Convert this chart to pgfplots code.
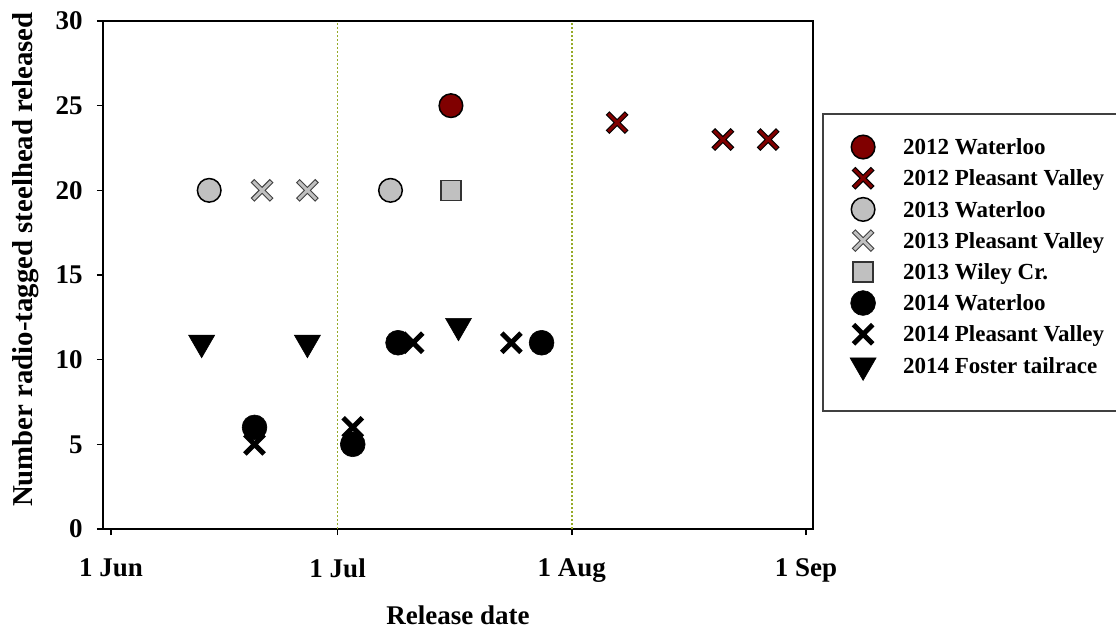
\documentclass[border=0pt]{standalone}
\usepackage{fontspec}
\setmainfont{Liberation Serif}
\usepackage{pgfplots}
\pgfplotsset{compat=1.18}
\definecolor{darkred}{RGB}{128,0,0}
\definecolor{lgray}{RGB}{192,192,192}
\definecolor{gridc}{RGB}{150,170,40}
\definecolor{framec}{RGB}{64,64,64}
\pgfdeclareplotmark{xred}{%
  \pgfsetbuttcap
  \pgfpathmoveto{\pgfqpoint{-\pgfplotmarksize}{-\pgfplotmarksize}}%
  \pgfpathlineto{\pgfqpoint{\pgfplotmarksize}{\pgfplotmarksize}}%
  \pgfpathmoveto{\pgfqpoint{-\pgfplotmarksize}{\pgfplotmarksize}}%
  \pgfpathlineto{\pgfqpoint{\pgfplotmarksize}{-\pgfplotmarksize}}%
  \pgfsetlinewidth{2.6pt}\pgfsetstrokecolor{black}%
  \pgfusepathqstroke
  \pgfpathmoveto{\pgfqpoint{-0.92\pgfplotmarksize}{-0.92\pgfplotmarksize}}%
  \pgfpathlineto{\pgfqpoint{0.92\pgfplotmarksize}{0.92\pgfplotmarksize}}%
  \pgfpathmoveto{\pgfqpoint{-0.92\pgfplotmarksize}{0.92\pgfplotmarksize}}%
  \pgfpathlineto{\pgfqpoint{0.92\pgfplotmarksize}{-0.92\pgfplotmarksize}}%
  \pgfsetlinewidth{1.5pt}\pgfsetstrokecolor{darkred}%
  \pgfusepathqstroke
}
\pgfdeclareplotmark{xgray}{%
  \pgfsetbuttcap
  \pgfpathmoveto{\pgfqpoint{-\pgfplotmarksize}{-\pgfplotmarksize}}%
  \pgfpathlineto{\pgfqpoint{\pgfplotmarksize}{\pgfplotmarksize}}%
  \pgfpathmoveto{\pgfqpoint{-\pgfplotmarksize}{\pgfplotmarksize}}%
  \pgfpathlineto{\pgfqpoint{\pgfplotmarksize}{-\pgfplotmarksize}}%
  \pgfsetlinewidth{2.6pt}\pgfsetstrokecolor{black!75}%
  \pgfusepathqstroke
  \pgfpathmoveto{\pgfqpoint{-0.92\pgfplotmarksize}{-0.92\pgfplotmarksize}}%
  \pgfpathlineto{\pgfqpoint{0.92\pgfplotmarksize}{0.92\pgfplotmarksize}}%
  \pgfpathmoveto{\pgfqpoint{-0.92\pgfplotmarksize}{0.92\pgfplotmarksize}}%
  \pgfpathlineto{\pgfqpoint{0.92\pgfplotmarksize}{-0.92\pgfplotmarksize}}%
  \pgfsetlinewidth{1.5pt}\pgfsetstrokecolor{lgray}%
  \pgfusepathqstroke
}
\pgfdeclareplotmark{xblack}{%
  \pgfsetbuttcap
  \pgfpathmoveto{\pgfqpoint{-\pgfplotmarksize}{-\pgfplotmarksize}}%
  \pgfpathlineto{\pgfqpoint{\pgfplotmarksize}{\pgfplotmarksize}}%
  \pgfpathmoveto{\pgfqpoint{-\pgfplotmarksize}{\pgfplotmarksize}}%
  \pgfpathlineto{\pgfqpoint{\pgfplotmarksize}{-\pgfplotmarksize}}%
  \pgfsetlinewidth{2.5pt}\pgfsetstrokecolor{black}%
  \pgfusepathqstroke
}
\begin{document}
\begin{tikzpicture}
\begin{axis}[
  at={(0pt,0pt)}, anchor=south west,
  scale only axis, width=355pt, height=254pt,
  xmin=-1.06, xmax=92.93, ymin=0, ymax=30,
  xtick={0,30,61,92}, xticklabels={1 Jun,1 Jul,1 Aug,1 Sep},
  ytick={0,5,...,30},
  tick pos=left, tick align=outside, major tick length=3pt,
  axis line style={line width=0.75pt}, every tick/.style={black, line width=0.75pt},
  /pgf/number format/assume math mode=true,
  ticklabel style={font=\bfseries\fontsize{13.5pt}{16pt}\selectfont},
  xticklabel style={anchor=north, inner ysep=0pt, yshift=-11.5pt},
  yticklabel style={anchor=east, inner xsep=0pt, xshift=-7pt},
  xlabel={Release date},
  xlabel style={font=\bfseries\fontsize{13.5pt}{16pt}\selectfont, at={(axis description cs:0.5,-0.187)}, anchor=base},
  ylabel={Number radio-tagged steelhead released},
  ylabel style={font=\bfseries\fontsize{14.4pt}{17pt}\selectfont, at={(axis description cs:-0.0986,0.5305)}, anchor=base, rotate=0},
  clip=false,
  legend style={draw=none, fill=none, at={(rel axis cs:1.01408,0.8169)}, anchor=north west,
    inner xsep=9.85pt, inner ysep=8.5pt, row sep=0pt, column sep=10pt,
    cells={anchor=west}, nodes={inner sep=0pt, text height=11.6pt, text depth=4pt},
    font=\bfseries\fontsize{11.5pt}{13pt}\selectfont},
  legend image code/.code={\path[draw=none] (-10pt,0pt) -- (10pt,0pt); \draw plot coordinates {(0pt,0pt)};},
]
\draw[gridc, line width=0.8pt, dash pattern=on 0.8pt off 1.2pt] (axis cs:30,0) -- (axis cs:30,30);
\draw[gridc, line width=0.8pt, dash pattern=on 0.8pt off 1.2pt] (axis cs:61,0) -- (axis cs:61,30);
% 2012 Waterloo
\addplot[only marks, mark=*, mark size=5.9pt, mark options={fill=darkred, draw=black, line width=0.75pt}]
  coordinates {(45,25)};
\addlegendentry{2012 Waterloo}
% 2012 Pleasant Valley
\addplot[only marks, mark=xred, mark size=4.8pt]
  coordinates {(67,24) (81,23) (87,23)};
\addlegendentry{2012 Pleasant Valley}
% 2013 Waterloo
\addplot[only marks, mark=*, mark size=5.9pt, mark options={fill=lgray, draw=black, line width=0.75pt}]
  coordinates {(13,20) (37,20)};
\addlegendentry{2013 Waterloo}
% 2013 Pleasant Valley
\addplot[only marks, mark=xgray, mark size=4.8pt]
  coordinates {(20,20) (26,20)};
\addlegendentry{2013 Pleasant Valley}
% 2013 Wiley Cr.
\addplot[only marks, mark=square*, mark size=5pt, mark options={fill=lgray, draw=black!80, line width=0.75pt}]
  coordinates {(45,20)};
\addlegendentry{2013 Wiley Cr.}
% 2014 Waterloo
\addplot[only marks, mark=*, mark size=6.2pt, mark options={fill=black, draw=black, line width=0.3pt}]
  coordinates {(19,6) (32,5) (38,11) (57,11)};
\addlegendentry{2014 Waterloo}
% 2014 Pleasant Valley
\addplot[only marks, mark=xblack, mark size=4.8pt]
  coordinates {(19,5) (32,6) (40,11) (53,11)};
\addlegendentry{2014 Pleasant Valley}
% 2014 Foster tailrace
\addplot[only marks, mark=triangle*, mark size=7.5pt, mark options={rotate=180, fill=black, draw=black, line width=0.3pt}]
  coordinates {(12,11) (26,11) (46,12)};
\addlegendentry{2014 Foster tailrace}
\end{axis}
\draw[framec, line width=1pt] (360pt,59pt) rectangle (530pt,207.5pt);
\pgfresetboundingbox
\path[use as bounding box] (-51.5pt,-50pt) rectangle (506.5pt,264.5pt);
\end{tikzpicture}
\end{document}
